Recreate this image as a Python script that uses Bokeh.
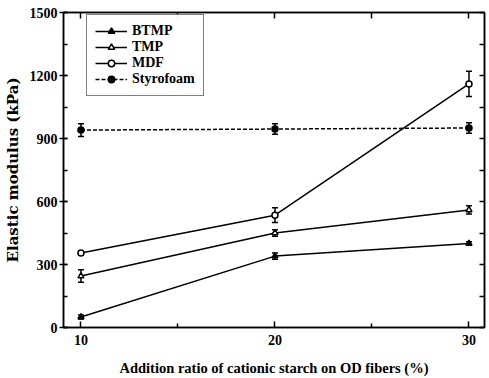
from bokeh.plotting import figure
from bokeh.models import (ColumnDataSource, Whisker, FixedTicker, SingleIntervalTicker,
                          LinearAxis, Legend, LegendItem, Range1d, TeeHead,
                          CustomJSTickFormatter)
from bokeh.embed import file_html
from bokeh.resources import INLINE

x = [10, 20, 30]
btmp = [50, 340, 400]
btmp_err = [10, 15, 8]
tmp = [245, 450, 560]
tmp_err = [30, 15, 20]
mdf = [355, 535, 1160]
mdf_err = [8, 35, 60]
styro = [940, 945, 950]
styro_err = [30, 25, 25]

FONT = "Liberation Serif"

p = figure(width=489, height=378, output_backend="svg", toolbar_location=None,
           x_range=Range1d(9.1, 30.8), y_range=Range1d(0, 1500),
           min_border_left=8, min_border_right=5, min_border_top=12, min_border_bottom=5)
p.background_fill_color = "white"
p.border_fill_color = "white"
p.grid.visible = False
p.outline_line_color = "black"
p.outline_line_width = 1.5

p.xaxis.ticker = FixedTicker(ticks=[10, 20, 30], minor_ticks=[15, 25])
p.yaxis.ticker = SingleIntervalTicker(interval=300, num_minor_ticks=2)
for ax in (p.xaxis[0], p.yaxis[0]):
    ax.axis_line_width = 1.5
    ax.axis_line_color = "black"
    ax.major_tick_line_color = "black"
    ax.minor_tick_line_color = "black"
    ax.major_tick_line_width = 1.5
    ax.minor_tick_line_width = 1.5
    ax.major_label_text_font = FONT
    ax.major_label_text_font_style = "bold"
    ax.major_label_text_font_size = "14px"
    ax.major_label_text_color = "black"
    ax.axis_label_text_font_style = "bold"
    ax.axis_label_text_color = "black"
    ax.minor_tick_out = 0
    ax.minor_tick_in = 4
p.xaxis.axis_label_text_font = FONT
p.xaxis.axis_label_text_font_size = "14.5px"
p.yaxis.axis_label_text_font = "DejaVu Serif"
p.yaxis.axis_label_text_font_size = "15px"
p.xaxis.major_tick_out = 0
p.xaxis.major_tick_in = 6
p.yaxis.major_tick_out = 4
p.yaxis.major_tick_in = 4
p.yaxis.major_label_standoff = 2
p.xaxis.major_label_standoff = 7
p.xaxis.axis_label = "Addition ratio of cationic starch on OD fibers (%)"
p.yaxis.axis_label = "Elastic modulus (kPa)"
p.xaxis.axis_label_standoff = 12
p.yaxis.axis_label_standoff = 5

blank = CustomJSTickFormatter(code="return ''")
top = LinearAxis(ticker=FixedTicker(ticks=[10, 15, 20, 25, 30], minor_ticks=[]), formatter=blank,
                 major_label_text_font_size="1px",
                 major_tick_in=6, major_tick_out=0, minor_tick_in=0, minor_tick_out=0,
                 major_label_standoff=0, axis_line_width=1.5, major_tick_line_width=1.5)
right = LinearAxis(ticker=SingleIntervalTicker(interval=150, num_minor_ticks=0), formatter=blank,
                   major_label_text_font_size="1px",
                   major_tick_in=5, major_tick_out=0, minor_tick_in=0, minor_tick_out=0,
                   major_label_standoff=0, axis_line_width=1.5, major_tick_line_width=1.5)
p.add_layout(top, "above")
p.add_layout(right, "right")

def add_series(y, err, marker, fill, dash, size):
    src = ColumnDataSource(dict(x=x, y=y, lo=[a - b for a, b in zip(y, err)],
                                hi=[a + b for a, b in zip(y, err)]))
    r1 = p.line("x", "y", source=src, line_color="black", line_width=1.5, line_dash=dash)
    r2 = p.scatter("x", "y", source=src, marker=marker, size=size, line_color="black",
                   line_width=1.5, fill_color=fill)
    w = Whisker(source=src, base="x", lower="lo", upper="hi", line_color="black", line_width=1.5,
                upper_head=TeeHead(size=6, line_width=1.5, line_color="black"),
                lower_head=TeeHead(size=6, line_width=1.5, line_color="black"))
    p.add_layout(w)
    return [r1, r2]

items = [
    LegendItem(label="BTMP", renderers=add_series(btmp, btmp_err, "triangle", "black", "solid", 6)),
    LegendItem(label="TMP", renderers=add_series(tmp, tmp_err, "triangle", "white", "solid", 6)),
    LegendItem(label="MDF", renderers=add_series(mdf, mdf_err, "circle", "white", "solid", 6)),
    LegendItem(label="Styrofoam", renderers=add_series(styro, styro_err, "circle", "black", "4 2", 6)),
]
legend = Legend(items=items, location=(23, 231), label_text_font=FONT,
                label_text_font_style="bold", label_text_font_size="14px",
                label_text_color="black",
                border_line_color="black", border_line_width=1.5, spacing=0, padding=8,
                glyph_height=16, label_height=16, margin=0, label_standoff=5, glyph_width=32)
p.add_layout(legend)

open("out.html", "w").write(file_html(p, INLINE))
